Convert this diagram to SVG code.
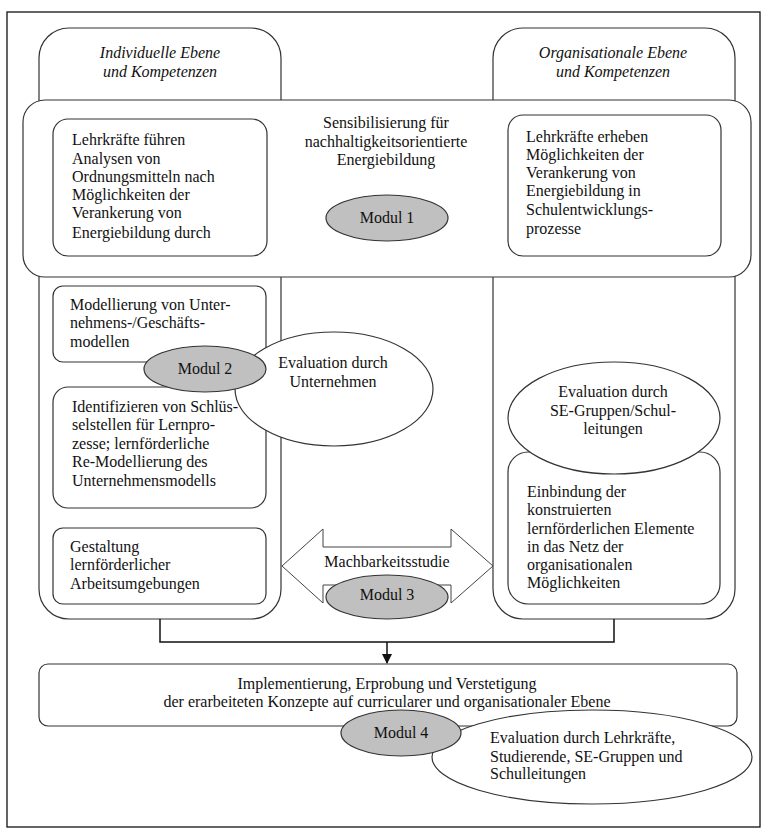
<svg xmlns="http://www.w3.org/2000/svg" width="770" height="838" viewBox="0 0 770 838">
<style>
text{font-family:'Liberation Serif','Times New Roman',serif;font-size:16px;fill:#111}
.it{font-style:italic}
.c{text-anchor:middle}
.box{fill:#fff;stroke:#333;stroke-width:1.2}
.mod{fill:#c0c0c0;stroke:#333;stroke-width:1.2}
.ell{fill:#fff;stroke:#333;stroke-width:1.2}
.con{fill:none;stroke:#111;stroke-width:1.5}
</style>
<defs>
<marker id="ah" markerWidth="10" markerHeight="10" refX="9" refY="5" orient="auto" markerUnits="userSpaceOnUse">
<path d="M0,0 L10,5 L0,10 z" fill="#111"/>
</marker>
</defs>
<rect x="7" y="12" width="753" height="815" fill="#fff" stroke="#111" stroke-width="1.3"/>

<g id="col-left">
<rect class="box" x="39" y="28" width="242" height="591" rx="30"/>
<text class="it c" x="160" y="58">Individuelle Ebene</text>
<text class="it c" x="160" y="77">und Kompetenzen</text>
</g>
<g id="col-right">
<rect class="box" x="493" y="28" width="242" height="591" rx="30"/>
<text class="it c" x="613" y="58">Organisationale Ebene</text>
<text class="it c" x="613" y="77">und Kompetenzen</text>
</g>

<g id="connectors">
<polyline class="con" points="160,619 160,642 614,642 614,619"/>
<line class="con" x1="387" y1="642" x2="387" y2="663" marker-end="url(#ah)"/>
</g>

<g id="modul1-band">
<rect class="box" x="23" y="100" width="728" height="177" rx="22"/>
<text class="c" x="386" y="128">Sensibilisierung für</text>
<text class="c" x="386" y="147">nachhaltigkeitsorientierte</text>
<text class="c" x="386" y="165">Energiebildung</text>
</g>
<g id="modul1">
<ellipse class="mod" cx="387" cy="218" rx="61" ry="23"/>
<text class="c" x="387" y="223">Modul 1</text>
</g>
<g id="box-lehrkraefte-analysen">
<rect class="box" x="53" y="119" width="214" height="137" rx="15"/>
<text x="72" y="145">Lehrkräfte führen</text>
<text x="72" y="164">Analysen von</text>
<text x="72" y="182">Ordnungsmitteln nach</text>
<text x="72" y="200">Möglichkeiten der</text>
<text x="72" y="218">Verankerung von</text>
<text x="72" y="238">Energiebildung durch</text>
</g>
<g id="box-lehrkraefte-erheben">
<rect class="box" x="508" y="115" width="213" height="141" rx="15"/>
<text x="526" y="142">Lehrkräfte erheben</text>
<text x="526" y="160">Möglichkeiten der</text>
<text x="526" y="178">Verankerung von</text>
<text x="526" y="196">Energiebildung in</text>
<text x="526" y="215">Schulentwicklungs-</text>
<text x="526" y="234">prozesse</text>
</g>

<g id="box-modellierung">
<rect class="box" x="53" y="286" width="213" height="76" rx="10"/>
<text x="70" y="310">Modellierung von Unter-</text>
<text x="70" y="328">nehmens-/Geschäfts-</text>
<text x="70" y="347">modellen</text>
</g>
<g id="box-identifizieren">
<rect class="box" x="53" y="387" width="213" height="121" rx="15"/>
<text x="72" y="412">Identifizieren von Schlüs-</text>
<text x="72" y="430">selstellen für Lernpro-</text>
<text x="72" y="449">zesse; lernförderliche</text>
<text x="72" y="467">Re-Modellierung des</text>
<text x="72" y="486">Unternehmensmodells</text>
</g>
<g id="eval-unternehmen">
<ellipse class="ell" cx="334" cy="389" rx="99" ry="57"/>
<text class="c" x="333" y="368">Evaluation durch</text>
<text class="c" x="333" y="387">Unternehmen</text>
</g>
<g id="modul2">
<ellipse class="mod" cx="205" cy="369" rx="61" ry="23"/>
<text class="c" x="205" y="374">Modul 2</text>
</g>
<g id="box-gestaltung">
<rect class="box" x="53" y="528" width="213" height="76" rx="10"/>
<text x="70" y="552">Gestaltung</text>
<text x="70" y="570">lernförderlicher</text>
<text x="70" y="589">Arbeitsumgebungen</text>
</g>

<g id="machbarkeitsstudie">
<polygon points="282,566 323,529 323,547 451,547 451,529 493,566 451,603 451,585 323,585 323,603" fill="#fff" stroke="#444" stroke-width="1"/>
<text class="c" x="387" y="567">Machbarkeitsstudie</text>
</g>
<g id="modul3">
<ellipse class="mod" cx="387" cy="597" rx="61" ry="22"/>
<text class="c" x="387" y="600">Modul 3</text>
</g>

<g id="box-einbindung">
<rect class="box" x="508" y="452" width="212" height="152" rx="20"/>
<text x="527" y="497">Einbindung der</text>
<text x="527" y="515">konstruierten</text>
<text x="527" y="534">lernförderlichen Elemente</text>
<text x="527" y="552">in das Netz der</text>
<text x="527" y="570">organisationalen</text>
<text x="527" y="588">Möglichkeiten</text>
</g>
<g id="eval-se">
<ellipse class="ell" cx="614" cy="418" rx="106" ry="56"/>
<text class="c" x="613" y="397">Evaluation durch</text>
<text class="c" x="613" y="416">SE-Gruppen/Schul-</text>
<text class="c" x="613" y="434">leitungen</text>
</g>

<g id="box-implementierung">
<rect class="box" x="39" y="664" width="698" height="62" rx="9"/>
<text class="c" x="387" y="689">Implementierung, Erprobung und Verstetigung</text>
<text class="c" x="387" y="707">der erarbeiteten Konzepte auf curricularer und organisationaler Ebene</text>
</g>
<g id="eval-lehrkraefte">
<ellipse class="ell" cx="592" cy="757" rx="160" ry="47"/>
<text x="490" y="743">Evaluation durch Lehrkräfte,</text>
<text x="490" y="762">Studierende, SE-Gruppen und</text>
<text x="490" y="779">Schulleitungen</text>
</g>
<g id="modul4">
<ellipse class="mod" cx="401" cy="733" rx="60" ry="23"/>
<text class="c" x="401" y="738">Modul 4</text>
</g>
</svg>
